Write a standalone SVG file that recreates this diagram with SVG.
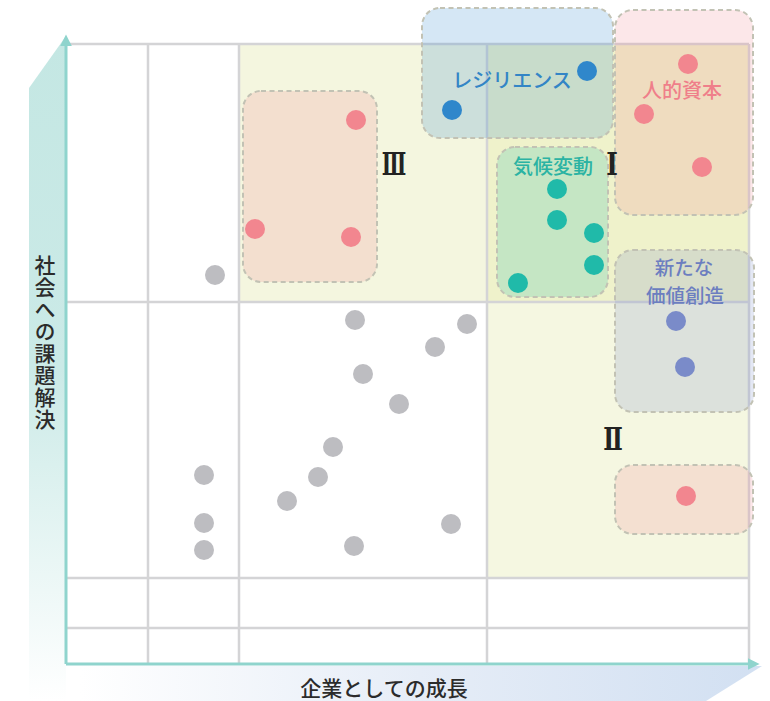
<svg xmlns="http://www.w3.org/2000/svg" width="770" height="701" viewBox="0 0 770 701">
<defs>
<linearGradient id="vg" x1="0" y1="36" x2="0" y2="701" gradientUnits="userSpaceOnUse">
<stop offset="0" stop-color="#c4e7e3"/>
<stop offset="0.5" stop-color="#cbeae7"/>
<stop offset="1" stop-color="#ffffff"/>
</linearGradient>
<linearGradient id="hg" x1="80" y1="0" x2="760" y2="0" gradientUnits="userSpaceOnUse">
<stop offset="0" stop-color="#ffffff"/>
<stop offset="0.5" stop-color="#e6edf7"/>
<stop offset="1" stop-color="#d2e0f2"/>
</linearGradient>
<marker id="ah" viewBox="0 0 10 10" refX="2" refY="5" markerWidth="4" markerHeight="4" orient="auto" markerUnits="strokeWidth">
<path d="M0,0 L10,5 L0,10 Z" fill="#8fd4cd"/>
</marker>
<style>
.grid{stroke:#d4d4d6;stroke-width:2.5;fill:none}
.box{stroke:#c2c2b4;stroke-width:2;stroke-dasharray:5 3.5}
.gray{fill:#bdbdc1}
.pink{fill:#f2868f}
.blue{fill:#2f87cb}
.teal{fill:#20baa9}
.purple{fill:#7a8bc9}
.lbl{font-family:"Noto Sans CJK JP","Noto Sans",sans-serif;font-size:20px;font-weight:500;text-anchor:middle}
.ax{font-family:"Noto Sans CJK JP","Noto Sans",sans-serif;font-size:21px;font-weight:500;fill:#2b2b2b;text-anchor:middle}
.rn{font-family:"DejaVu Serif","Liberation Serif",serif;font-weight:bold;font-size:31px;fill:#222;text-anchor:middle}
</style>
</defs>
<rect width="770" height="701" fill="#ffffff"/>
<polygon points="29,88 66,36 66,701 29,701" fill="url(#vg)"/>
<polygon points="66,666 762,666 706,701 66,701" fill="url(#hg)"/>
<rect x="239" y="44" width="248" height="258" fill="#f4f6df"/>
<rect x="487" y="44" width="262" height="258" fill="#eff2cb"/>
<rect x="487" y="302" width="262" height="276" fill="#f5f7e1"/>
<g id="grid">
<line class="grid" x1="66" y1="44" x2="749" y2="44"/>
<line class="grid" x1="66" y1="302" x2="749" y2="302"/>
<line class="grid" x1="66" y1="578" x2="749" y2="578"/>
<line class="grid" x1="66" y1="628" x2="749" y2="628"/>
<line class="grid" x1="148" y1="44" x2="148" y2="664"/>
<line class="grid" x1="239" y1="44" x2="239" y2="664"/>
<line class="grid" x1="487" y1="44" x2="487" y2="664"/>
<line class="grid" x1="749" y1="44" x2="749" y2="664"/>
</g>
<g id="axes">
<line x1="66" y1="664" x2="66" y2="44" stroke="#8fd4cd" stroke-width="3" marker-end="url(#ah)"/>
<line x1="66" y1="664" x2="750" y2="664" stroke="#8fd4cd" stroke-width="3" marker-end="url(#ah)"/>
</g>
<text class="ax" x="45" y="343" style="writing-mode:vertical-rl;letter-spacing:1px" text-anchor="middle">社会への課題解決</text>
<text class="ax" x="384" y="696">企業としての成長</text>
<g id="resilience">
<rect class="box" x="422" y="8" width="191" height="130" rx="18" fill="#2f87cb" fill-opacity="0.2"/>
<circle class="blue" cx="452" cy="110" r="10"/>
<circle class="blue" cx="587" cy="71" r="10"/>
<text class="lbl" x="512" y="88" fill="#3385c6">レジリエンス</text>
</g>
<g id="human">
<rect class="box" x="615" y="10" width="138" height="205" rx="18" fill="#f2868f" fill-opacity="0.2"/>
<circle class="pink" cx="688" cy="64" r="10"/>
<circle class="pink" cx="644" cy="114" r="10"/>
<circle class="pink" cx="702" cy="167" r="10"/>
<text class="lbl" x="682" y="98" fill="#ef7f8a">人的資本</text>
</g>
<g id="climate">
<rect class="box" x="497" y="147" width="111" height="150" rx="18" fill="#20baa9" fill-opacity="0.2"/>
<circle class="teal" cx="557" cy="189" r="10"/>
<circle class="teal" cx="557" cy="220" r="10"/>
<circle class="teal" cx="594" cy="233" r="10"/>
<circle class="teal" cx="594" cy="265" r="10"/>
<circle class="teal" cx="518" cy="283" r="10"/>
<text class="lbl" x="553" y="174" fill="#2bb3a3">気候変動</text>
</g>
<g id="value">
<rect class="box" x="615" y="250" width="139" height="162" rx="18" fill="#7a8bc9" fill-opacity="0.2"/>
<circle class="purple" cx="676" cy="321" r="10"/>
<circle class="purple" cx="685" cy="367" r="10"/>
<text class="lbl" fill="#6c7ec0" style="font-size:19.5px"><tspan x="684" y="274.5">新たな</tspan><tspan x="685" y="303">価値創造</tspan></text>
</g>
<g id="q3box">
<rect class="box" x="243" y="91" width="134" height="191" rx="18" fill="#f2868f" fill-opacity="0.2"/>
<circle class="pink" cx="356" cy="120" r="10"/>
<circle class="pink" cx="255" cy="229" r="10"/>
<circle class="pink" cx="351" cy="237" r="10"/>
</g>
<g id="q2box">
<rect class="box" x="615" y="465" width="138" height="69" rx="18" fill="#f2868f" fill-opacity="0.2"/>
<circle class="pink" cx="686" cy="496" r="10"/>
</g>
<g id="others">
<circle class="gray" cx="215" cy="275" r="10"/>
<circle class="gray" cx="355" cy="320" r="10"/>
<circle class="gray" cx="467" cy="324" r="10"/>
<circle class="gray" cx="435" cy="347" r="10"/>
<circle class="gray" cx="363" cy="374" r="10"/>
<circle class="gray" cx="399" cy="404" r="10"/>
<circle class="gray" cx="333" cy="447" r="10"/>
<circle class="gray" cx="318" cy="477" r="10"/>
<circle class="gray" cx="287" cy="501" r="10"/>
<circle class="gray" cx="204" cy="475" r="10"/>
<circle class="gray" cx="204" cy="523" r="10"/>
<circle class="gray" cx="204" cy="550" r="10"/>
<circle class="gray" cx="451" cy="524" r="10"/>
<circle class="gray" cx="354" cy="546" r="10"/>
</g>
<g id="numerals">
<text class="rn" transform="translate(394,175) scale(0.65,1)">Ⅲ</text>
<text class="rn" transform="translate(612,175) scale(0.8,1)">Ⅰ</text>
<text class="rn" transform="translate(613,450) scale(0.75,1)">Ⅱ</text>
</g>
</svg>
